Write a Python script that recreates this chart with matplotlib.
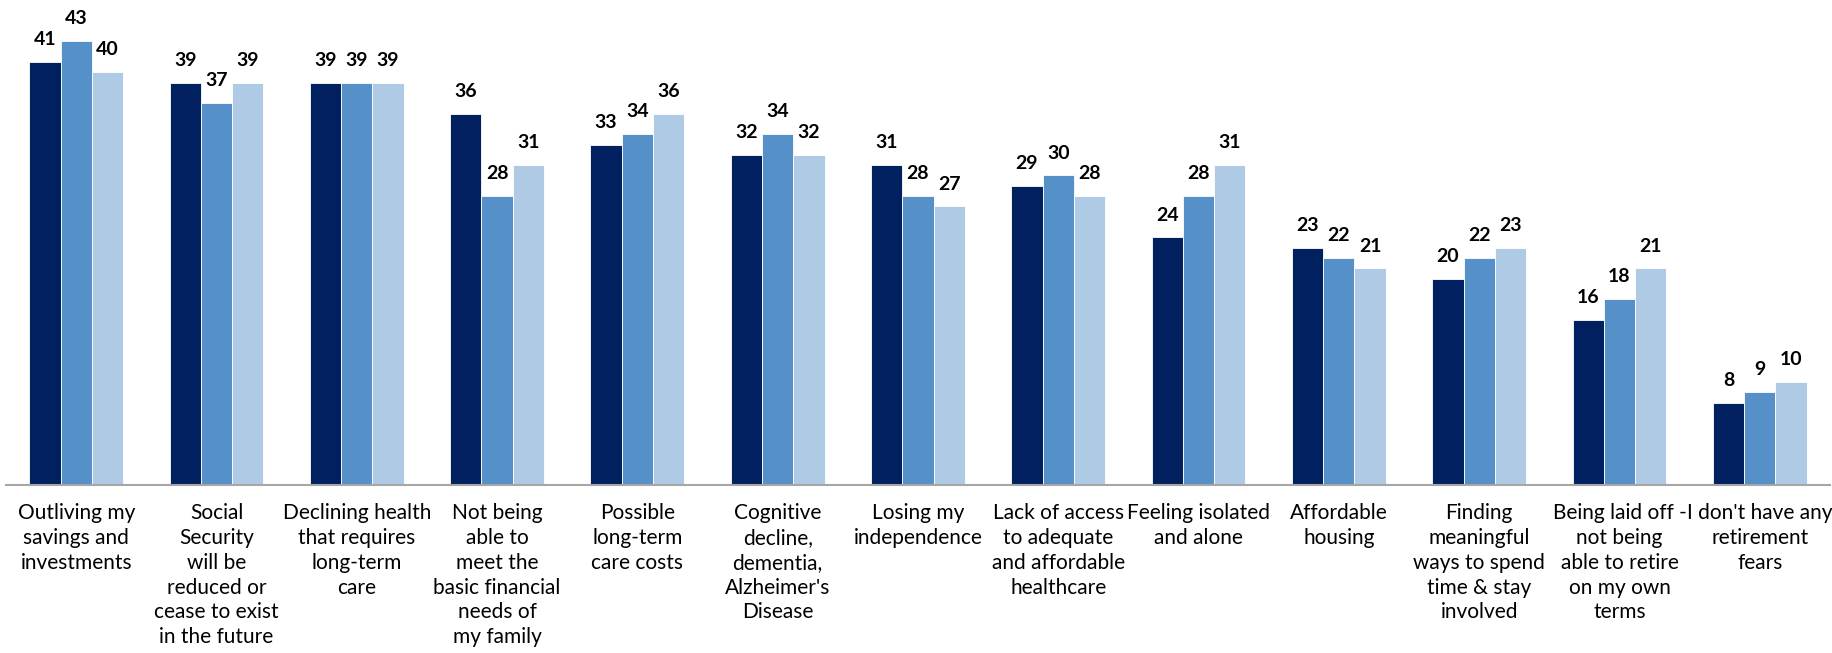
import numpy as np
import matplotlib.pyplot as plt

# categories and the three survey series (percent)
categories = [
    "Outliving my\nsavings and\ninvestments",
    "Social\nSecurity\nwill be\nreduced or\ncease to exist\nin the future",
    "Declining health\nthat requires\nlong-term\ncare",
    "Not being\nable to\nmeet the\nbasic financial\nneeds of\nmy family",
    "Possible\nlong-term\ncare costs",
    "Cognitive\ndecline,\ndementia,\nAlzheimer's\nDisease",
    "Losing my\nindependence",
    "Lack of access\nto adequate\nand affordable\nhealthcare",
    "Feeling isolated\nand alone",
    "Affordable\nhousing",
    "Finding\nmeaningful\nways to spend\ntime & stay\ninvolved",
    "Being laid off -\nnot being\nable to retire\non my own\nterms",
    "I don't have any\nretirement\nfears",
]
series_1 = [41, 39, 39, 36, 33, 32, 31, 29, 24, 23, 20, 16, 8]
series_2 = [43, 37, 39, 28, 34, 34, 28, 30, 28, 22, 22, 18, 9]
series_3 = [40, 39, 39, 31, 36, 32, 27, 28, 31, 21, 23, 21, 10]

colors = ["#002060", "#5690C8", "#AFCAE5"]

plt.rcParams['font.family'] = ['Lato', 'DejaVu Sans']

fig = plt.figure(figsize=(18.33, 6.53), dpi=100)
ax = fig.add_axes([0.0033, 0.257, 0.995, 0.743])

x = np.arange(len(categories))
w = 0.223
for i, (vals, c) in enumerate(zip([series_1, series_2, series_3], colors)):
    bars = ax.bar(x + (i - 1) * w, vals, width=w, color=c, edgecolor='white', linewidth=0.6)
    ax.bar_label(bars, labels=[str(v) for v in vals], padding=10,
                 fontsize=14, fontweight='bold', color='black')

ax.set_xlim(-0.5, len(categories) - 0.5)
ax.set_ylim(0, 47)
ax.set_yticks([])
ax.set_xticks(x)
ax.set_xticklabels(categories, fontsize=15, linespacing=1.3, va='top')
ax.tick_params(axis='x', length=0, pad=13)
for s in ['top', 'right', 'left']:
    ax.spines[s].set_visible(False)
ax.spines['bottom'].set_color('#A6A6A6')
ax.spines['bottom'].set_linewidth(1.5)

fig.savefig("out.png", dpi=100)
